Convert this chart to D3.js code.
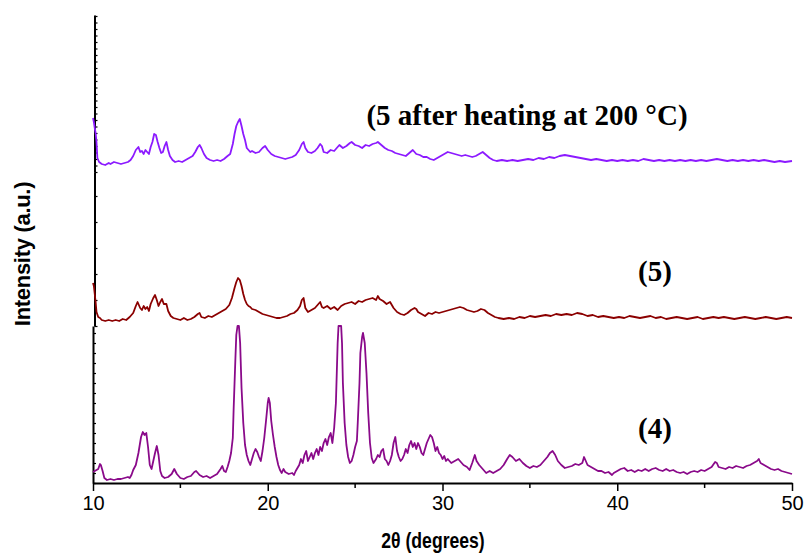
<!DOCTYPE html>
<html>
<head>
<meta charset="utf-8">
<script src="https://cdn.jsdelivr.net/npm/d3@7"></script>
<style>
  body { margin: 0; background: #fff; }
  svg { display: block; }
</style>
</head>
<body>
<svg id="xrd"></svg>
<script>
var width = 808, height = 557;
var margin = {left: 93, right: 16, bottom: 74};

// stacked panels (a.u.), bottom to top
var panelNames = ["(4)", "(5)", "(5 after heating at 200 \u00B0C)"];
var xTicks = [10, 20, 30, 40, 50];
var xMinor = [15, 25, 35, 45];

// (4)
var pattern4 = [[10.0,11],[10.1,12],[10.2,13],[10.3,14],[10.4,19],[10.45,18],[10.55,12],[10.65,5],[10.8,3],[11.0,4],[11.2,3],[11.4,4],[11.6,4],[11.8,5],[12.0,6],[12.1,5],[12.2,8],[12.3,13],[12.45,18],[12.6,30],[12.75,46],[12.85,51],[12.95,48],[13.05,50],[13.15,36],[13.25,18],[13.35,14],[13.45,22],[13.55,30],[13.65,37],[13.75,28],[13.85,12],[13.95,7],[14.1,5],[14.3,6],[14.5,9],[14.65,14],[14.8,9],[15.0,5],[15.2,4],[15.4,6],[15.6,7],[15.8,11],[15.9,12],[16.1,8],[16.3,6],[16.5,7],[16.7,5],[16.9,7],[17.1,9],[17.3,14],[17.4,17],[17.5,12],[17.6,11],[17.7,16],[17.8,22],[17.9,30],[18.0,45],[18.05,75],[18.1,100],[18.15,125],[18.2,148],[18.27,157],[18.35,157],[18.42,140],[18.5,95],[18.6,60],[18.7,38],[18.8,28],[18.9,22],[19.0,18],[19.1,24],[19.2,30],[19.3,34],[19.4,31],[19.5,26],[19.6,22],[19.7,32],[19.8,45],[19.9,62],[20.0,80],[20.05,85],[20.12,80],[20.2,62],[20.3,48],[20.4,36],[20.5,26],[20.6,18],[20.7,13],[20.8,10],[20.9,14],[21.0,11],[21.2,9],[21.4,10],[21.5,8],[21.6,12],[21.8,18],[21.9,24],[22.0,20],[22.1,28],[22.2,32],[22.3,22],[22.4,26],[22.5,30],[22.6,24],[22.7,30],[22.8,34],[22.9,28],[23.0,36],[23.1,32],[23.2,40],[23.3,44],[23.4,38],[23.5,46],[23.6,50],[23.7,40],[23.8,55],[23.9,80],[23.95,110],[24.0,140],[24.05,157],[24.2,157],[24.25,140],[24.3,100],[24.4,60],[24.5,38],[24.6,26],[24.7,20],[24.8,22],[24.9,28],[25.0,36],[25.1,42],[25.15,60],[25.25,100],[25.3,130],[25.4,146],[25.45,150],[25.55,140],[25.65,110],[25.75,70],[25.85,40],[25.95,25],[26.05,20],[26.2,24],[26.3,28],[26.4,26],[26.5,32],[26.6,34],[26.7,24],[26.8,22],[26.9,18],[27.0,22],[27.1,28],[27.2,40],[27.3,46],[27.4,32],[27.5,26],[27.6,22],[27.7,24],[27.8,28],[27.9,34],[28.0,30],[28.1,38],[28.2,42],[28.3,36],[28.4,40],[28.5,34],[28.6,40],[28.7,36],[28.8,30],[28.9,28],[29.0,34],[29.1,40],[29.2,44],[29.3,48],[29.4,46],[29.5,40],[29.6,32],[29.7,36],[29.8,30],[29.9,28],[30.0,24],[30.1,27],[30.2,22],[30.3,24],[30.5,20],[30.7,22],[30.9,24],[31.0,22],[31.2,18],[31.4,16],[31.55,13],[31.7,20],[31.85,28],[31.95,22],[32.1,18],[32.3,14],[32.5,10],[32.7,12],[32.9,10],[33.1,12],[33.3,14],[33.5,18],[33.7,24],[33.85,28],[34.0,26],[34.2,22],[34.4,24],[34.6,20],[34.8,17],[35.0,15],[35.2,17],[35.4,16],[35.6,18],[35.8,22],[36.0,26],[36.15,30],[36.3,32],[36.45,28],[36.6,22],[36.8,18],[37.0,15],[37.2,16],[37.4,17],[37.6,19],[37.8,18],[38.0,20],[38.1,26],[38.2,22],[38.3,18],[38.5,16],[38.7,14],[38.9,12],[39.1,12],[39.3,10],[39.5,11],[39.7,8],[39.8,10],[40.0,12],[40.2,14],[40.4,15],[40.6,12],[40.8,13],[41.0,11],[41.2,13],[41.4,12],[41.6,14],[41.8,12],[42.0,14],[42.2,15],[42.4,13],[42.6,12],[42.8,14],[43.0,12],[43.2,13],[43.4,11],[43.6,10],[43.8,11],[44.0,9],[44.2,11],[44.4,12],[44.6,11],[44.8,13],[45.0,12],[45.2,14],[45.4,16],[45.6,21],[45.7,20],[45.8,16],[46.0,15],[46.2,14],[46.4,16],[46.6,15],[46.8,17],[47.0,16],[47.2,15],[47.4,17],[47.6,18],[47.8,20],[48.0,22],[48.1,24],[48.2,20],[48.4,18],[48.6,16],[48.8,14],[49.0,13],[49.2,14],[49.4,12],[49.6,11],[49.8,10],[50.0,9]];

// (5)
var pattern5 = [[10.0,43],[10.05,40],[10.1,32],[10.15,24],[10.2,14],[10.3,9],[10.4,8],[10.5,6],[10.7,5],[10.9,6],[11.1,5],[11.3,6],[11.5,5],[11.7,7],[11.9,6],[12.1,9],[12.3,13],[12.45,20],[12.55,24],[12.7,18],[12.8,16],[12.9,20],[13.0,17],[13.1,19],[13.2,15],[13.3,22],[13.45,28],[13.55,31],[13.65,26],[13.75,20],[13.85,24],[13.95,27],[14.05,22],[14.2,22],[14.3,15],[14.45,10],[14.6,8],[14.8,7],[15.0,6],[15.2,8],[15.4,6],[15.6,7],[15.8,9],[16.0,12],[16.1,13],[16.2,9],[16.4,8],[16.6,10],[16.8,9],[17.0,11],[17.2,13],[17.4,15],[17.6,17],[17.8,21],[17.95,28],[18.1,38],[18.2,44],[18.3,48],[18.4,46],[18.5,40],[18.6,32],[18.7,26],[18.8,22],[18.9,20],[19.0,19],[19.1,17],[19.3,16],[19.5,14],[19.7,12],[19.9,11],[20.1,10],[20.3,9],[20.5,8],[20.7,8],[20.9,9],[21.1,10],[21.3,12],[21.5,13],[21.7,16],[21.85,20],[21.95,26],[22.05,28],[22.15,18],[22.3,14],[22.5,16],[22.7,18],[22.8,20],[22.9,22],[23.0,24],[23.1,19],[23.2,18],[23.4,20],[23.6,17],[23.8,19],[24.0,16],[24.2,20],[24.4,22],[24.6,23],[24.8,24],[25.0,22],[25.2,25],[25.4,24],[25.6,26],[25.8,27],[26.0,28],[26.2,26],[26.3,30],[26.4,27],[26.6,25],[26.8,22],[27.0,24],[27.2,18],[27.4,14],[27.6,12],[27.8,11],[28.0,13],[28.2,16],[28.4,18],[28.5,17],[28.6,14],[28.8,12],[29.0,10],[29.2,13],[29.4,12],[29.6,14],[29.8,13],[30.0,14],[30.2,15],[30.4,16],[30.6,17],[30.8,18],[31.0,19],[31.2,18],[31.4,16],[31.6,15],[31.8,14],[32.0,15],[32.2,17],[32.4,16],[32.6,13],[32.8,11],[33.0,9],[33.2,8],[33.5,7],[33.8,8],[34.1,7],[34.4,9],[34.7,8],[35.0,10],[35.3,9],[35.6,10],[35.9,11],[36.2,10],[36.5,12],[36.8,11],[37.1,12],[37.4,11],[37.7,13],[38.0,12],[38.3,10],[38.6,11],[38.9,9],[39.2,10],[39.5,9],[39.8,8],[40.1,9],[40.4,8],[40.7,10],[41.0,9],[41.3,8],[41.6,9],[41.9,10],[42.2,8],[42.5,9],[42.8,7],[43.1,8],[43.4,9],[43.7,8],[44.0,7],[44.3,8],[44.6,9],[44.9,7],[45.2,8],[45.5,9],[45.8,8],[46.1,9],[46.4,8],[46.7,7],[47.0,8],[47.3,9],[47.6,8],[47.9,7],[48.2,8],[48.5,9],[48.8,8],[49.1,7],[49.4,8],[49.7,9],[50.0,8]];

// (5) after heating at 200 C
var pattern5h = [[10.0,54],[10.05,50],[10.1,44],[10.15,39],[10.2,30],[10.25,14],[10.35,10],[10.5,8],[10.7,7],[10.9,9],[11.0,8],[11.2,10],[11.4,9],[11.6,8],[11.8,9],[12.0,10],[12.15,12],[12.3,16],[12.45,22],[12.6,25],[12.7,20],[12.8,21],[12.9,18],[13.0,22],[13.1,20],[13.2,18],[13.3,25],[13.4,30],[13.5,38],[13.6,37],[13.7,30],[13.8,24],[13.9,19],[14.0,20],[14.1,26],[14.2,30],[14.3,22],[14.4,16],[14.55,12],[14.7,10],[14.9,11],[15.1,10],[15.3,12],[15.5,14],[15.7,16],[15.85,20],[16.0,25],[16.1,27],[16.2,24],[16.35,18],[16.5,14],[16.7,12],[16.9,11],[17.1,12],[17.3,11],[17.5,13],[17.7,16],[17.85,18],[18.0,28],[18.1,38],[18.2,46],[18.3,50],[18.4,53],[18.5,46],[18.6,38],[18.7,32],[18.8,24],[18.9,22],[19.0,20],[19.1,21],[19.3,19],[19.5,20],[19.7,24],[19.85,26],[20.0,22],[20.2,18],[20.4,16],[20.6,15],[20.8,14],[21.0,13],[21.2,14],[21.4,15],[21.6,17],[21.8,22],[21.95,28],[22.05,30],[22.15,24],[22.3,20],[22.5,19],[22.7,21],[22.85,24],[23.0,28],[23.1,26],[23.2,20],[23.4,19],[23.6,22],[23.8,21],[24.0,25],[24.1,27],[24.3,24],[24.5,26],[24.7,29],[24.8,30],[25.0,27],[25.2,26],[25.4,24],[25.6,27],[25.8,26],[26.0,28],[26.2,29],[26.3,30],[26.5,27],[26.7,24],[26.9,22],[27.1,21],[27.3,19],[27.5,18],[27.7,17],[27.9,16],[28.1,19],[28.3,22],[28.5,18],[28.7,17],[28.9,15],[29.1,15],[29.3,13],[29.5,12],[29.7,14],[29.9,16],[30.1,18],[30.3,20],[30.5,19],[30.7,18],[30.9,17],[31.1,16],[31.3,17],[31.5,16],[31.7,15],[31.9,16],[32.1,18],[32.3,20],[32.5,17],[32.7,14],[32.9,12],[33.1,11],[33.4,12],[33.7,11],[34.0,12],[34.3,11],[34.6,12],[34.9,13],[35.2,12],[35.5,14],[35.8,13],[36.1,15],[36.4,14],[36.7,16],[37.0,17],[37.3,16],[37.6,15],[37.9,14],[38.2,13],[38.5,12],[38.8,13],[39.1,12],[39.4,11],[39.7,12],[40.0,11],[40.3,12],[40.6,11],[40.9,12],[41.2,11],[41.5,13],[41.8,12],[42.1,11],[42.4,12],[42.7,11],[43.0,12],[43.3,11],[43.6,12],[43.9,11],[44.2,12],[44.5,11],[44.8,12],[45.1,11],[45.4,12],[45.7,13],[46.0,12],[46.3,11],[46.6,12],[46.9,11],[47.2,12],[47.5,11],[47.8,12],[48.1,11],[48.4,12],[48.7,11],[49.0,10],[49.3,11],[49.6,10],[50.0,11]];

var panels = [
  {name: panelNames[0], data: pattern4,  color: "#8a0a8a", top: 326, bottom: 483, max: 157, step: 10,  axisX: 93,   lx: 655, ly: 438},
  {name: panelNames[1], data: pattern5,  color: "#8b0000", top: 172, bottom: 326, max: 154, step: 26,  axisX: 94.5, lx: 655, ly: 281},
  {name: panelNames[2], data: pattern5h, color: "#8c1aff", top: 15,  bottom: 172, max: 157, step: 6.5, axisX: 94.5, lx: 527, ly: 125}
];

var svg = d3.select("#xrd")
    .attr("width", width)
    .attr("height", height);

var x = d3.scaleLinear().domain([10, 50]).range([margin.left, width - margin.right]);
var xAxisY = height - margin.bottom;

panels.forEach(function(p){
    var y = d3.scaleLinear().domain([0, p.max]).range([p.bottom, p.top]);

    svg.append("g")
        .attr("transform", "translate(" + p.axisX + ",0)")
        .call(d3.axisRight(y)
            .tickValues(d3.range(0, p.max + 0.01, p.step))
            .tickSize(3).tickSizeOuter(0).tickFormat(""))
        .call(function(g){
            g.select(".domain").attr("stroke", "#000").attr("stroke-width", 2);
            g.selectAll(".tick line").attr("stroke", "#000").attr("stroke-width", 1.2);
        });

    var line = d3.line()
        .x(function(d){ return x(d[0]); })
        .y(function(d){ return y(Math.min(d[1], p.max)); });

    svg.append("path")
        .datum(p.data)
        .attr("fill", "none")
        .attr("stroke", p.color)
        .attr("stroke-width", 1.8)
        .attr("stroke-linejoin", "round")
        .attr("d", line);

    svg.append("text")
        .attr("x", p.lx)
        .attr("y", p.ly)
        .attr("text-anchor", "middle")
        .attr("font-family", "'Liberation Serif', 'Times New Roman', serif")
        .attr("font-weight", "bold")
        .attr("font-size", 29)
        .text(p.name);
});

// x axis
var xg = svg.append("g")
    .attr("transform", "translate(0," + xAxisY + ")");

xg.call(d3.axisBottom(x).tickValues(xTicks).tickSize(8).tickSizeOuter(0).tickPadding(5))
    .call(function(g){
        g.select(".domain").attr("stroke", "#000").attr("stroke-width", 2);
        g.selectAll(".tick line").attr("stroke", "#000").attr("stroke-width", 1.5);
        g.selectAll(".tick text")
            .attr("font-family", "'Liberation Sans', Arial, sans-serif")
            .attr("font-size", 20)
            .attr("fill", "#000");
    });

xg.selectAll(".minor")
    .data(xMinor)
    .enter().append("line")
    .attr("class", "minor")
    .attr("x1", function(d){ return x(d); })
    .attr("x2", function(d){ return x(d); })
    .attr("y1", 0)
    .attr("y2", 5)
    .attr("stroke", "#000")
    .attr("stroke-width", 1.5);

svg.append("text")
    .attr("transform", "translate(433,548) scale(0.8,1)")
    .attr("text-anchor", "middle")
    .attr("font-family", "'Liberation Sans', Arial, sans-serif")
    .attr("font-weight", "bold")
    .attr("font-size", 22)
    .text("2\u03B8 (degrees)");

svg.append("text")
    .attr("transform", "translate(30,254) rotate(-90)")
    .attr("text-anchor", "middle")
    .attr("font-family", "'Liberation Sans', Arial, sans-serif")
    .attr("font-weight", "bold")
    .attr("font-size", 22)
    .attr("letter-spacing", -0.3)
    .text("Intensity (a.u.)");
</script>
</body>
</html>
